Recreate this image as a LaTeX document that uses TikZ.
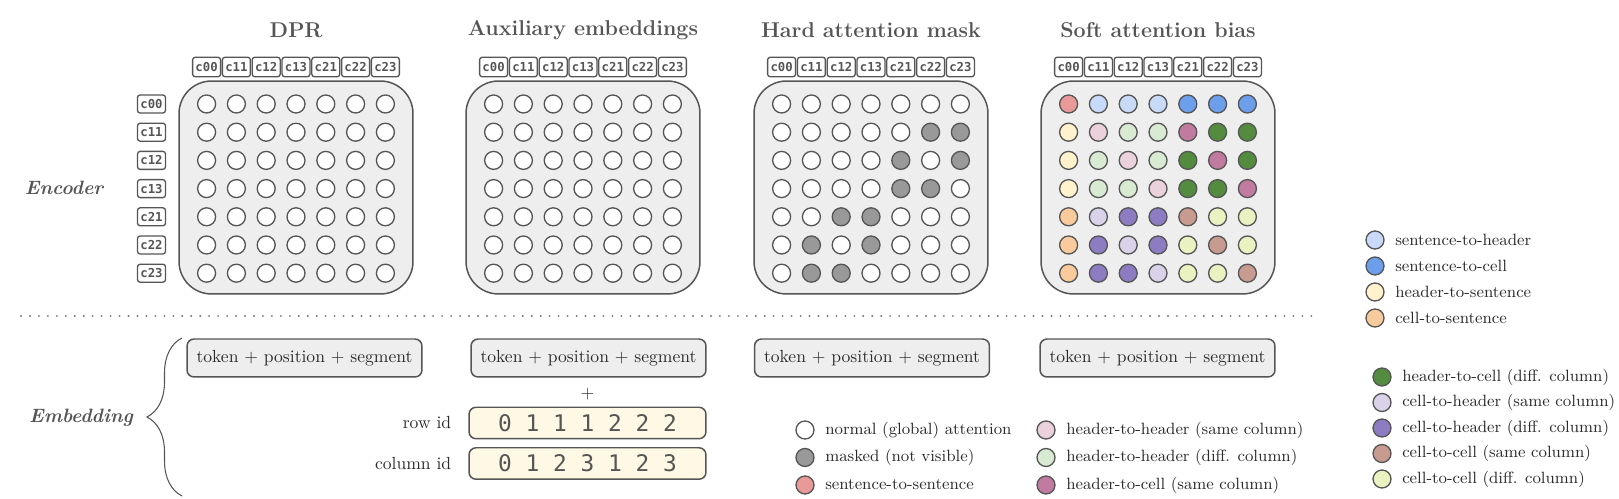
\documentclass[tikz,border=0pt]{standalone}
\usepackage{fontspec}
\setmonofont{DejaVu Sans Mono}
\usetikzlibrary{positioning,decorations.pathreplacing}

\definecolor{cN}{HTML}{FFFFFF}
\definecolor{cM}{HTML}{999999}
\definecolor{cSS}{HTML}{EA9999}
\definecolor{cSH}{HTML}{C9DAF8}
\definecolor{cSC}{HTML}{6D9EEB}
\definecolor{cHS}{HTML}{FFF2CC}
\definecolor{cCS}{HTML}{F9CB9C}
\definecolor{cHHs}{HTML}{EAD1DC}
\definecolor{cHHd}{HTML}{D9EAD3}
\definecolor{cHCs}{HTML}{C27BA0}
\definecolor{cHCd}{HTML}{538B3F}
\definecolor{cCHs}{HTML}{D9D2E9}
\definecolor{cCHd}{HTML}{8E7CC3}
\definecolor{cCCs}{HTML}{C89B90}
\definecolor{cCCd}{HTML}{E9F2C0}
\definecolor{ink}{HTML}{555555}
\definecolor{txt}{HTML}{2B2B2B}
\definecolor{panelfill}{HTML}{EEEEEE}
\definecolor{idfill}{HTML}{FFF8E5}

% rows of colours, one list per matrix
\def\plainrows{{cN,cN,cN,cN,cN,cN,cN},{cN,cN,cN,cN,cN,cN,cN},{cN,cN,cN,cN,cN,cN,cN},
  {cN,cN,cN,cN,cN,cN,cN},{cN,cN,cN,cN,cN,cN,cN},{cN,cN,cN,cN,cN,cN,cN},{cN,cN,cN,cN,cN,cN,cN}}
\def\hardrows{{cN,cN,cN,cN,cN,cN,cN},{cN,cN,cN,cN,cN,cM,cM},{cN,cN,cN,cN,cM,cN,cM},
  {cN,cN,cN,cN,cM,cM,cN},{cN,cN,cM,cM,cN,cN,cN},{cN,cM,cN,cM,cN,cN,cN},{cN,cM,cM,cN,cN,cN,cN}}
\def\softrows{{cSS,cSH,cSH,cSH,cSC,cSC,cSC},{cHS,cHHs,cHHd,cHHd,cHCs,cHCd,cHCd},
  {cHS,cHHd,cHHs,cHHd,cHCd,cHCs,cHCd},{cHS,cHHd,cHHd,cHHs,cHCd,cHCd,cHCs},
  {cCS,cCHs,cCHd,cCHd,cCCs,cCCd,cCCd},{cCS,cCHd,cCHs,cCHd,cCCd,cCCs,cCCd},
  {cCS,cCHd,cCHd,cCHs,cCCd,cCCd,cCCs}}

% #1 name, #2 centre x, #3 title, #4 rows
\newcommand{\attgrid}[4]{%
  \node[paneltitle] (#1-title) at (#2,30) {#3};
  \node[panel] (#1) at (#2,187.5) {};
  \edef\gridrows{#4}%
  \foreach \rw [count=\i from 0] in \gridrows {
    \foreach \cl [count=\j from 0] in \rw
      \node[att, fill=\cl] (#1-\i-\j) at ({#2-89.4+29.8*\j},{104+28.2*\i}) {};
  }
  \foreach \tg [count=\j from 0] in {c00,c11,c12,c13,c21,c22,c23}
    \node[idtag] (#1-t\j) at ({#2-89.4+29.8*\j},67) {\tg};
}

\begin{document}
\begin{tikzpicture}[x=0.02cm, y=-0.02cm,
    paneltitle/.style={font=\fontsize{12.2}{14}\selectfont\bfseries, text=ink},
    sidelbl/.style={font=\fontsize{11}{13}\selectfont\bfseries\itshape, text=ink},
    panel/.style={draw=ink, line width=0.85pt, fill=panelfill, rounded corners=0.65cm,
      minimum width=4.68cm, minimum height=4.26cm},
    att/.style={circle, draw=ink, line width=0.75pt, minimum size=0.36cm, inner sep=0pt},
    idtag/.style={draw=ink, line width=0.75pt, fill=white, rounded corners=1.5pt,
      minimum width=0.56cm, minimum height=0.39cm, inner sep=0pt,
      font=\fontsize{7}{7}\selectfont\ttfamily\bfseries, text=ink},
    tokbox/.style={draw=ink, line width=0.85pt, fill=panelfill, rounded corners=4pt,
      minimum width=4.7cm, minimum height=0.76cm, font=\fontsize{10}{12}\selectfont, text=txt},
    idbox/.style={draw=ink, line width=0.85pt, fill=idfill, rounded corners=4pt,
      minimum width=4.74cm, minimum height=0.63cm, inner sep=0pt,
      font=\fontsize{13}{13}\selectfont\ttfamily, text=ink},
    lbl/.style={font=\fontsize{10}{12}\selectfont, text=txt, inner sep=1pt},
    lgd/.style={font=\fontsize{9.3}{11}\selectfont, text=txt, inner sep=1pt},
    sepline/.style={draw=ink!80, line width=1.2pt, line cap=round, dash pattern=on 0pt off 5.1pt}]
  \useasboundingbox (0,0) rectangle (1619,499);

  % encoder part
  \attgrid{dpr}{296}{DPR}{\plainrows}
  \attgrid{aux}{583}{Auxiliary embeddings}{\plainrows}
  \attgrid{hard}{871}{Hard attention mask}{\hardrows}
  \attgrid{soft}{1158}{Soft attention bias}{\softrows}
  \foreach \tg [count=\i from 0] in {c00,c11,c12,c13,c21,c22,c23}
    \node[idtag, minimum height=0.36cm] (rowtag\i) at (151.5,{104+28.2*\i}) {\tg};
  \node[sidelbl] (enc) at (64,188) {Encoder};

  \coordinate (sepL) at (21,316);
  \coordinate (sepR) at (1313,316);
  \draw[sepline] (sepL) -- (sepR);

  % embedding part
  \node[sidelbl] (emb) at (81,418) {Embedding};
  \coordinate (braceB) at (182,496);
  \coordinate (braceT) at (182,338);
  \draw[draw=ink, line width=0.6pt, decorate, decoration={brace, amplitude=0.7cm}] (braceB) -- (braceT);
  \foreach \nm/\tx in {dpr/304.5, aux/588.5, hard/872, soft/1157.5}
    \node[tokbox] (\nm-emb) at (\tx,358) {token + position + segment};
  \node[lbl] (plus) at (587.5,394) {+};
  \node[idbox] (rowid) at (587.5,423) {0 1 1 1 2 2 2};
  \node[idbox] (colid) at (587.5,463.5) {0 1 2 3 1 2 3};
  \node[lbl, left=0.3cm of rowid] (rowidl) {row id};
  \node[lbl, left=0.3cm of colid] (colidl) {column id};

  % legend
  \foreach \lx/\ly/\cl/\txt [count=\k] in {
      805/430/cN/normal (global) attention, 805/457.5/cM/masked (not visible),
      805/485/cSS/sentence-to-sentence,
      1046/430/cHHs/header-to-header (same column), 1046/457.5/cHHd/header-to-header (diff. column),
      1046/485/cHCs/header-to-cell (same column),
      1375/240/cSH/sentence-to-header, 1375/266/cSC/sentence-to-cell,
      1375/292/cHS/header-to-sentence, 1375/318/cCS/cell-to-sentence,
      1382/377/cHCd/header-to-cell (diff. column), 1382/402.5/cCHs/cell-to-header (same column),
      1382/428/cCHd/cell-to-header (diff. column), 1382/453.5/cCCs/cell-to-cell (same column),
      1382/479/cCCd/cell-to-cell (diff. column)} {
    \node[att, fill=\cl] (lg\k) at (\lx,\ly) {};
    \node[lgd, right=0.17cm of lg\k] (lgt\k) {\txt};
  }
\end{tikzpicture}
\end{document}
